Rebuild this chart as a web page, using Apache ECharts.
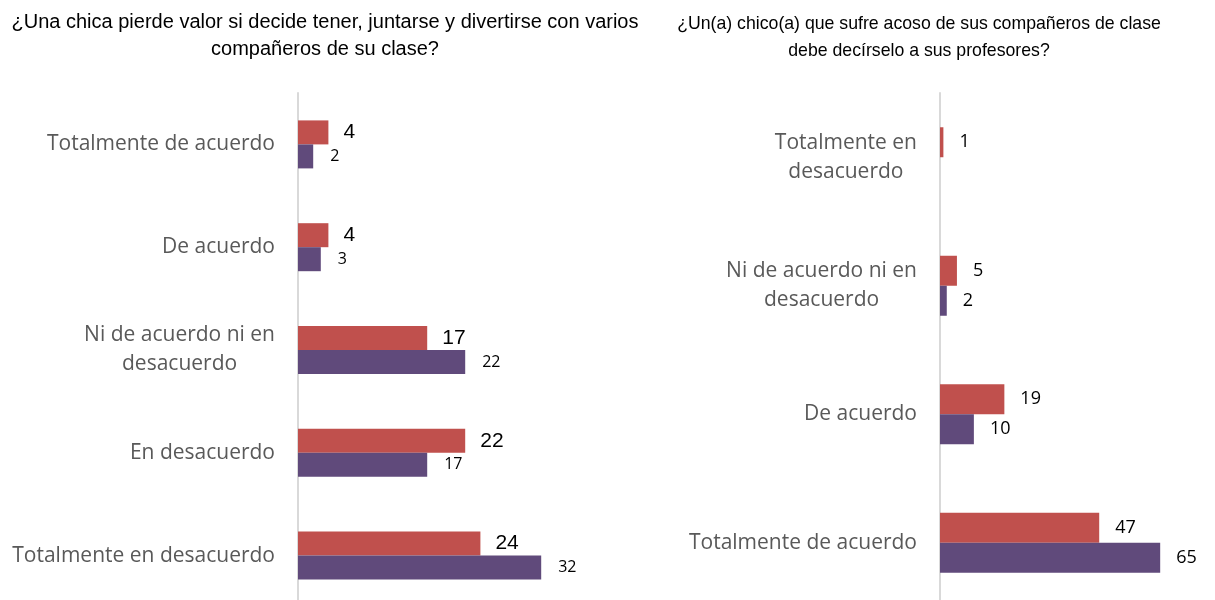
<!DOCTYPE html>
<html>
<head>
<meta charset="utf-8">
<script src="https://cdn.jsdelivr.net/npm/echarts@6/dist/echarts.min.js"></script>
<style>
  html, body { margin: 0; padding: 0; background: #fff; }
  #chart { width: 1215px; height: 600px; }
</style>
</head>
<body>
<div id="chart"></div>
<script>
  // datos del gráfico
  const leftTitle = '¿Una chica pierde valor si decide tener, juntarse y divertirse con varios\ncompañeros de su clase?';
  const rightTitle = '¿Un(a) chico(a) que sufre acoso de sus compañeros de clase\ndebe decírselo a sus profesores?';

  const leftCategories = ['Totalmente de acuerdo', 'De acuerdo', 'Ni de acuerdo ni en\ndesacuerdo', 'En desacuerdo', 'Totalmente en desacuerdo'];
  const leftRed = [4, 4, 17, 22, 24];
  const leftPurple = [2, 3, 22, 17, 32];

  const rightCategories = ['Totalmente en\ndesacuerdo', 'Ni de acuerdo ni en\ndesacuerdo', 'De acuerdo', 'Totalmente de acuerdo'];
  const rightRed = [1, 5, 19, 47];
  const rightPurple = [null, 2, 10, 65];

  const red = '#C0504D';
  const purple = '#604A7B';

  // etiquetas centradas línea por línea
  function catLabel(v) {
    return v.split('\n').map(s => '{c|' + s + '}').join('\n');
  }

  function catAxis(cats, gridIndex) {
    return {
      type: 'category',
      gridIndex: gridIndex,
      data: cats,
      inverse: true,
      axisLine: { show: true, lineStyle: { color: '#D9D9D9', width: 2 } },
      axisTick: { show: false },
      axisLabel: {
        margin: 23,
        align: 'right',
        formatter: catLabel,
        rich: {
          c: { align: 'center', fontFamily: 'Open Sans', fontSize: 21, color: '#595959', lineHeight: 29 }
        }
      }
    };
  }

  let myChart = echarts.init(document.getElementById('chart'));
  myChart.setOption({
    animation: false,
    title: [
      {
        text: leftTitle, left: 320, top: 4, textAlign: 'center',
        textStyle: { fontFamily: 'Liberation Sans', fontSize: 20, fontWeight: 'normal', color: '#000', lineHeight: 27, align: 'center' }
      },
      {
        text: rightTitle, left: 914, top: 6, textAlign: 'center',
        textStyle: { fontFamily: 'Liberation Sans', fontSize: 17.7, fontWeight: 'normal', color: '#000', lineHeight: 27, align: 'center' }
      }
    ],
    grid: [
      { left: 298, top: 93, width: 304, height: 514, outerBoundsMode: 'none' },
      { left: 940, top: 93, width: 271, height: 514, outerBoundsMode: 'none' }
    ],
    xAxis: [
      { type: 'value', gridIndex: 0, min: 0, max: 40, show: false },
      { type: 'value', gridIndex: 1, min: 0, max: 80, show: false }
    ],
    yAxis: [catAxis(leftCategories, 0), catAxis(rightCategories, 1)],
    series: [
      {
        type: 'bar', xAxisIndex: 0, yAxisIndex: 0, data: leftRed, barWidth: 24, barGap: '0%',
        itemStyle: { color: red },
        label: { show: true, position: 'right', distance: 15, fontFamily: 'Liberation Sans', fontSize: 21, color: '#000' }
      },
      {
        type: 'bar', xAxisIndex: 0, yAxisIndex: 0, data: leftPurple, barWidth: 24, barGap: '0%',
        itemStyle: { color: purple },
        label: { show: true, position: 'right', distance: 17, fontFamily: 'Open Sans', fontSize: 16, color: '#000' }
      },
      {
        type: 'bar', xAxisIndex: 1, yAxisIndex: 1, data: rightRed, barWidth: 30, barGap: '0%',
        itemStyle: { color: red },
        label: { show: true, position: 'right', distance: 16, fontFamily: 'Open Sans', fontSize: 18, color: '#000' }
      },
      {
        type: 'bar', xAxisIndex: 1, yAxisIndex: 1, data: rightPurple, barWidth: 30, barGap: '0%',
        itemStyle: { color: purple },
        label: { show: true, position: 'right', distance: 16, fontFamily: 'Open Sans', fontSize: 18, color: '#000' }
      }
    ]
  });
  window.addEventListener('resize', () => {
    myChart.resize();
  });
</script>
</body>
</html>
